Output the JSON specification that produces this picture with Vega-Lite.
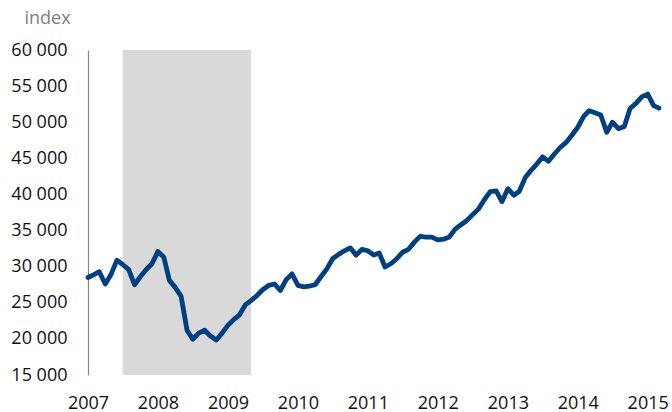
{
  "$schema": "https://vega.github.io/schema/vega-lite/v6.json",
  "width": 571,
  "height": 325,
  "autosize": "none",
  "padding": {"left": 88, "top": 50, "right": 13, "bottom": 37},
  "background": "white",
  "config": {
    "view": {"stroke": null},
    "font": "Open Sans",
    "axis": {"grid": false, "labelFont": "Open Sans", "titleFont": "Open Sans"},
    "axisX": {
      "title": null, "format": "%Y", "formatType": "utc",
      "domain": false, "ticks": false, "tickSize": 0,
      "labelFontSize": 18, "labelColor": "#111111", "labelPadding": 19,
      "labelBaseline": "top", "labelAlign": "center", "labelOverlap": false, "labelFlush": false
    }
  },
  "datasets": {
    "series": [
      {"d": "2007-01-01", "v": 28500}, {"d": "2007-02-01", "v": 28900}, {"d": "2007-03-01", "v": 29300},
      {"d": "2007-04-01", "v": 27600}, {"d": "2007-05-01", "v": 28900}, {"d": "2007-06-01", "v": 30900},
      {"d": "2007-07-01", "v": 30300}, {"d": "2007-08-01", "v": 29640}, {"d": "2007-09-01", "v": 27500},
      {"d": "2007-10-01", "v": 28600}, {"d": "2007-11-01", "v": 29600}, {"d": "2007-12-01", "v": 30400},
      {"d": "2008-01-01", "v": 32100}, {"d": "2008-02-01", "v": 31300}, {"d": "2008-03-01", "v": 28100},
      {"d": "2008-04-01", "v": 27100}, {"d": "2008-05-01", "v": 25900}, {"d": "2008-06-01", "v": 21200},
      {"d": "2008-07-01", "v": 19950}, {"d": "2008-08-01", "v": 20800}, {"d": "2008-09-01", "v": 21200},
      {"d": "2008-10-01", "v": 20400}, {"d": "2008-11-01", "v": 19850}, {"d": "2008-12-01", "v": 20800},
      {"d": "2009-01-01", "v": 21900}, {"d": "2009-02-01", "v": 22700}, {"d": "2009-03-01", "v": 23300},
      {"d": "2009-04-01", "v": 24700}, {"d": "2009-05-01", "v": 25300}, {"d": "2009-06-01", "v": 26000},
      {"d": "2009-07-01", "v": 26800}, {"d": "2009-08-01", "v": 27400}, {"d": "2009-09-01", "v": 27600},
      {"d": "2009-10-01", "v": 26700}, {"d": "2009-11-01", "v": 28200}, {"d": "2009-12-01", "v": 29000},
      {"d": "2010-01-01", "v": 27400}, {"d": "2010-02-01", "v": 27200}, {"d": "2010-03-01", "v": 27300},
      {"d": "2010-04-01", "v": 27500}, {"d": "2010-05-01", "v": 28600}, {"d": "2010-06-01", "v": 29700},
      {"d": "2010-07-01", "v": 31100}, {"d": "2010-08-01", "v": 31700}, {"d": "2010-09-01", "v": 32200},
      {"d": "2010-10-01", "v": 32600}, {"d": "2010-11-01", "v": 31600}, {"d": "2010-12-01", "v": 32400},
      {"d": "2011-01-01", "v": 32200}, {"d": "2011-02-01", "v": 31600}, {"d": "2011-03-01", "v": 31900},
      {"d": "2011-04-01", "v": 29950}, {"d": "2011-05-01", "v": 30400}, {"d": "2011-06-01", "v": 31100},
      {"d": "2011-07-01", "v": 32000}, {"d": "2011-08-01", "v": 32400}, {"d": "2011-09-01", "v": 33400},
      {"d": "2011-10-01", "v": 34200}, {"d": "2011-11-01", "v": 34100}, {"d": "2011-12-01", "v": 34100},
      {"d": "2012-01-01", "v": 33700}, {"d": "2012-02-01", "v": 33800}, {"d": "2012-03-01", "v": 34100},
      {"d": "2012-04-01", "v": 35200}, {"d": "2012-05-01", "v": 35800}, {"d": "2012-06-01", "v": 36400},
      {"d": "2012-07-01", "v": 37200}, {"d": "2012-08-01", "v": 38000}, {"d": "2012-09-01", "v": 39300},
      {"d": "2012-10-01", "v": 40400}, {"d": "2012-11-01", "v": 40500}, {"d": "2012-12-01", "v": 39000},
      {"d": "2013-01-01", "v": 40800}, {"d": "2013-02-01", "v": 39900}, {"d": "2013-03-01", "v": 40400},
      {"d": "2013-04-01", "v": 42300}, {"d": "2013-05-01", "v": 43300}, {"d": "2013-06-01", "v": 44200},
      {"d": "2013-07-01", "v": 45200}, {"d": "2013-08-01", "v": 44600}, {"d": "2013-09-01", "v": 45600},
      {"d": "2013-10-01", "v": 46500}, {"d": "2013-11-01", "v": 47200}, {"d": "2013-12-01", "v": 48200},
      {"d": "2014-01-01", "v": 49300}, {"d": "2014-02-01", "v": 50800}, {"d": "2014-03-01", "v": 51600},
      {"d": "2014-04-01", "v": 51300}, {"d": "2014-05-01", "v": 51000}, {"d": "2014-06-01", "v": 48600},
      {"d": "2014-07-01", "v": 50000}, {"d": "2014-08-01", "v": 49100}, {"d": "2014-09-01", "v": 49400},
      {"d": "2014-10-01", "v": 51900}, {"d": "2014-11-01", "v": 52600}, {"d": "2014-12-01", "v": 53500},
      {"d": "2015-01-01", "v": 53900}, {"d": "2015-02-01", "v": 52300}, {"d": "2015-03-01", "v": 51950}
    ],
    "band": [{"start": "2007-07-01", "end": "2009-05-01"}]
  },
  "encoding": {
    "x": {
      "type": "temporal",
      "scale": {"type": "utc", "domain": [{"year": 2007, "month": 1, "date": 1, "utc": true}, {"year": 2015, "month": 3, "date": 1, "utc": true}]},
      "axis": {
        "title": null,
        "values": [
          {"year": 2007, "month": 1, "date": 1, "utc": true}, {"year": 2008, "month": 1, "date": 1, "utc": true},
          {"year": 2009, "month": 1, "date": 1, "utc": true}, {"year": 2010, "month": 1, "date": 1, "utc": true},
          {"year": 2011, "month": 1, "date": 1, "utc": true}, {"year": 2012, "month": 1, "date": 1, "utc": true},
          {"year": 2013, "month": 1, "date": 1, "utc": true}, {"year": 2014, "month": 1, "date": 1, "utc": true},
          {"year": 2015, "month": 1, "date": 1, "utc": true}
        ]
      }
    }
  },
  "layer": [
    {
      "data": {"name": "band"},
      "mark": {"type": "rect", "color": "#d9d9d9"},
      "encoding": {
        "x": {"field": "start", "type": "temporal", "title": null},
        "x2": {"field": "end"}
      }
    },
    {
      "data": {"name": "series"},
      "mark": {"type": "line", "color": "#003f80", "strokeWidth": 4.8, "strokeCap": "round", "strokeJoin": "round"},
      "encoding": {
        "x": {"field": "d", "type": "temporal", "title": null},
        "y": {
          "field": "v", "type": "quantitative",
          "scale": {"domain": [15000, 60000], "nice": false, "zero": false},
          "axis": {
            "values": [15000, 20000, 25000, 30000, 35000, 40000, 45000, 50000, 55000, 60000],
            "labelExpr": "replace(format(datum.value, ','), ',', ' ')",
            "domain": true, "domainColor": "#868686", "domainWidth": 1.2,
            "ticks": false, "tickSize": 0,
            "labelFontSize": 18, "labelColor": "#111111", "labelPadding": 21,
            "labelBaseline": "middle", "labelOverlap": false, "labelFlush": false,
            "title": "index", "titleAngle": 0, "titleAlign": "left", "titleBaseline": "alphabetic",
            "titleX": -64, "titleY": -27, "titleFontSize": 18, "titleFontWeight": "normal", "titleColor": "#808080"
          }
        }
      }
    }
  ]
}
